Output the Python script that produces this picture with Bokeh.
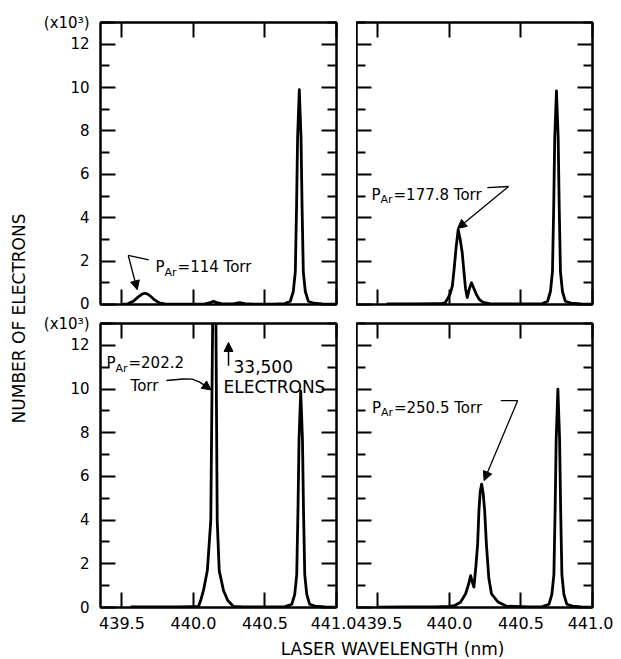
import math
from bokeh.plotting import figure
from bokeh.models import (Range1d, LinearAxis, Label, Arrow, NormalHead,
                          FixedTicker, NumeralTickFormatter)
from bokeh.layouts import row, column
from bokeh.embed import file_html
from bokeh.resources import INLINE

FONT = "DejaVu Sans"

# ---------------- data (counts in units of 10^3) ----------------
wl_114 = [439.50, 439.54, 439.58, 439.61, 439.64, 439.66, 439.68, 439.70, 439.73, 439.76,
          439.80, 439.90, 440.00, 440.08, 440.11, 440.14, 440.17, 440.20, 440.28, 440.31,
          440.33, 440.36, 440.42, 440.55, 440.64, 440.677, 440.698, 440.712, 440.721, 440.728,
          440.740, 440.752, 440.759, 440.768, 440.782, 440.803, 440.84, 440.90, 441.00]
ne_114 = [0.00, 0.03, 0.15, 0.33, 0.48, 0.52, 0.48, 0.38, 0.20, 0.08,
          0.03, 0.02, 0.02, 0.03, 0.07, 0.15, 0.07, 0.03, 0.03, 0.07,
          0.08, 0.04, 0.02, 0.02, 0.04, 0.15, 0.6, 1.5, 4.6, 7.7,
          9.9, 7.7, 4.6, 1.5, 0.6, 0.15, 0.06, 0.03, 0.02]

wl_178 = [439.56, 439.75, 439.90, 439.95, 439.97, 439.986, 440.005, 440.020, 440.033, 440.046,
          440.061, 440.075, 440.089, 440.100, 440.112, 440.124, 440.138, 440.154, 440.170, 440.189,
          440.210, 440.235, 440.28, 440.40, 440.55, 440.65, 440.686, 440.706, 440.720, 440.729,
          440.736, 440.748, 440.760, 440.767, 440.776, 440.790, 440.810, 440.85, 440.92, 441.00]
ne_178 = [0.03, 0.03, 0.04, 0.05, 0.08, 0.25, 0.50, 0.85, 1.67, 2.60,
          3.45, 3.00, 2.40, 1.60, 0.75, 0.32, 0.70, 1.00, 0.75, 0.45,
          0.22, 0.10, 0.04, 0.03, 0.03, 0.04, 0.15, 0.6, 1.5, 4.6,
          7.7, 9.85, 7.7, 4.6, 1.5, 0.6, 0.15, 0.06, 0.03, 0.02]

wl_202 = [439.56, 439.75, 439.90, 439.98, 440.035, 440.050, 440.070, 440.097, 440.121, 440.134,
          440.142, 440.157, 440.166, 440.180, 440.210, 440.240, 440.280, 440.35, 440.50, 440.64,
          440.688, 440.708, 440.722, 440.731, 440.738, 440.750, 440.762, 440.769, 440.778, 440.792,
          440.812, 440.85, 440.92, 441.00]
ne_202 = [0.03, 0.03, 0.03, 0.04, 0.05, 0.32, 0.78, 1.69, 3.98, 13.0,
          33.5, 13.0, 3.98, 1.69, 0.78, 0.32, 0.05, 0.03, 0.03, 0.04,
          0.15, 0.6, 1.5, 4.6, 7.7, 9.9, 7.7, 4.6, 1.5, 0.6,
          0.15, 0.06, 0.03, 0.02]

wl_250 = [439.50, 439.70, 439.90, 440.00, 440.04, 440.077, 440.113, 440.135, 440.148, 440.160,
          440.171, 440.185, 440.197, 440.206, 440.215, 440.225, 440.236, 440.246, 440.258, 440.275,
          440.294, 440.34, 440.40, 440.55, 440.65, 440.696, 440.716, 440.730, 440.739, 440.746,
          440.758, 440.770, 440.777, 440.786, 440.800, 440.820, 440.86, 440.92, 441.00]
ne_250 = [0.02, 0.03, 0.03, 0.05, 0.10, 0.24, 0.63, 1.10, 1.46, 1.15,
          0.93, 1.90, 2.91, 4.44, 5.30, 5.65, 5.20, 4.44, 2.91, 1.35,
          0.62, 0.25, 0.06, 0.03, 0.04, 0.15, 0.6, 1.5, 4.6, 7.7,
          10.0, 7.7, 4.6, 1.5, 0.6, 0.15, 0.06, 0.03, 0.02]

x_major = [439.5, 440.0, 440.5, 441.0]
y_major = [0, 2, 4, 6, 8, 10, 12]
y_minor = [1, 3, 5, 7, 9, 11, 13]
y_scale_tick = 13
y_scale_label = "(x10³)"
X_RANGE = (439.35, 441.0)
Y_RANGE = (0, 13)

# annotation geometry (data coordinates of each panel)
ann_114 = dict(text_xy=(439.735, 1.71), rest="=114 Torr",
               path=([439.688, 439.544], [2.06, 2.26]), arrow=(439.544, 2.26, 439.607, 0.68))
ann_178 = dict(text_xy=(439.455, 5.07), rest="=177.8 Torr",
               path=([440.265, 440.413], [5.39, 5.44]), arrow=(440.413, 5.44, 440.056, 3.50))
ann_202 = dict(text_xy=(439.392, 11.17), rest="=202.2",
               path=([439.811, 439.93, 439.99, 440.04, 440.09], [10.39, 10.46, 10.45, 10.33, 10.12]),
               arrow=(440.09, 10.12, 440.124, 9.96))
ann_250 = dict(text_xy=(439.458, 9.15), rest="=250.5 Torr",
               path=([440.359, 440.477], [9.47, 9.47]), arrow=(440.477, 9.47, 440.242, 5.81))


def style_axis(ax, show, size="15px", standoff=10):
    ax.axis_line_color = "black"
    ax.axis_line_width = 2
    ax.major_tick_in = 15
    ax.major_tick_out = 0
    ax.minor_tick_in = 9
    ax.minor_tick_out = 0
    ax.major_tick_line_width = 2
    ax.minor_tick_line_width = 2
    ax.major_label_text_font = FONT
    if show:
        ax.major_label_text_color = "black"
        ax.major_label_text_font_size = size
        ax.major_label_standoff = standoff
    else:
        ax.major_label_text_color = None
        ax.major_label_text_font_size = "1px"
        ax.major_label_standoff = 0


def panel(wl, ne, bl, br, bt, bb, fh, label_left, label_bottom):
    p = figure(frame_width=236, frame_height=fh,
               x_range=Range1d(*X_RANGE), y_range=Range1d(*Y_RANGE),
               x_axis_location=None, y_axis_location=None,
               toolbar_location=None, output_backend="svg",
               min_border_left=bl, min_border_right=br,
               min_border_top=bt, min_border_bottom=bb)
    p.grid.visible = False
    p.outline_line_color = "black"
    p.outline_line_width = 2
    p.background_fill_color = "white"
    p.border_fill_color = "white"
    for side in ("left", "right"):
        show = side == "left" and label_left
        ticks = y_major + [y_scale_tick] if show else y_major
        ax = LinearAxis(ticker=FixedTicker(ticks=ticks, minor_ticks=y_minor))
        style_axis(ax, show, "15px", 11)
        if show:
            ax.major_label_overrides = {y_scale_tick: y_scale_label}
        p.add_layout(ax, side)
    for side in ("below", "above"):
        ax = LinearAxis(ticker=FixedTicker(ticks=x_major, minor_ticks=[]),
                        formatter=NumeralTickFormatter(format="0.0"))
        style_axis(ax, side == "below" and label_bottom, "16px", 9)
        p.add_layout(ax, side)
    p.line(wl, ne, line_width=2.8, line_color="black", line_join="round")
    return p


def lab(p, x, y, text, size="15px", **kw):
    p.add_layout(Label(x=x, y=y, text=text, text_font=FONT, text_font_size=size,
                       text_color="black", **kw))


def annotate(p, a):
    x, y = a["text_xy"]
    lab(p, x, y, "P", "15px", text_baseline="alphabetic")
    lab(p, x, y - 0.23, "Ar", "11px", text_baseline="alphabetic", x_offset=9)
    lab(p, x, y, a["rest"], "15px", text_baseline="alphabetic", x_offset=22)
    px, py = a["path"]
    p.line(px, py, line_width=1.3, line_color="black")
    x0, y0, x1, y1 = a["arrow"]
    p.add_layout(Arrow(end=NormalHead(size=9, fill_color="black", line_color="black", line_width=1),
                       x_start=x0, y_start=y0, x_end=x1, y_end=y1,
                       line_width=1.3, line_color="black"))


tl = panel(wl_114, ne_114, 66, 20, 22, 8, 282, True, False)
tr = panel(wl_178, ne_178, 0, 21, 22, 8, 282, False, False)
bl = panel(wl_202, ne_202, 66, 20, 11, 30, 284, True, True)
br = panel(wl_250, ne_250, 0, 21, 11, 30, 284, False, True)

annotate(tl, ann_114)
annotate(tr, ann_178)
annotate(bl, ann_202)
annotate(br, ann_250)

# extra texts on the 202.2 Torr panel
lab(bl, 439.56, 10.16, "Torr", "15px", text_baseline="alphabetic")
lab(bl, 440.28, 11.03, "33,500", "17px", text_baseline="alphabetic")
lab(bl, 440.21, 10.11, "ELECTRONS", "17px", text_baseline="alphabetic")
bl.add_layout(Arrow(end=NormalHead(size=9, fill_color="black", line_color="black", line_width=1),
                    x_start=440.245, y_start=11.07, x_end=440.245, y_end=12.13,
                    line_width=1.5, line_color="black"))

# shared axis titles
XF_H = 22
TOTAL_H = 22 + 282 + 8 + 11 + 284 + 30 + XF_H
yf = figure(frame_width=34, frame_height=TOTAL_H, x_range=Range1d(0, 1), y_range=Range1d(0, 1),
            x_axis_location=None, y_axis_location=None, toolbar_location=None,
            output_backend="svg", min_border=0)
yf.grid.visible = False
yf.outline_line_color = None
yf.add_layout(Label(x=0.544, y=0.5175, text="NUMBER OF ELECTRONS", angle=math.pi / 2,
                    text_align="center", text_baseline="middle", text_font=FONT,
                    text_font_size="17px", text_color="black"))

xf = figure(frame_width=579, frame_height=XF_H, x_range=Range1d(0, 1), y_range=Range1d(0, 1),
            x_axis_location=None, y_axis_location=None, toolbar_location=None,
            output_backend="svg", min_border=0)
xf.grid.visible = False
xf.outline_line_color = None
xf.add_layout(Label(x=0.6183, y=0.455, text="LASER WAVELENGTH (nm)",
                    text_align="center", text_baseline="middle", text_font=FONT,
                    text_font_size="17px", text_color="black"))

layout = row(yf, column(row(tl, tr), row(bl, br), xf))

open("out.html", "w").write(file_html(layout, INLINE))
